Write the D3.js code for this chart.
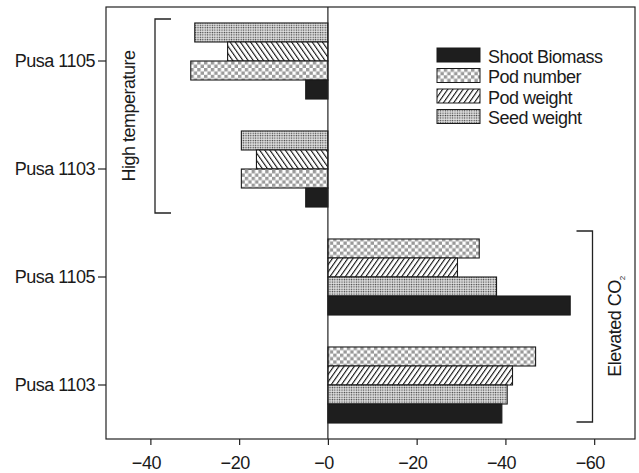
<!DOCTYPE html>
<html>
<head>
<meta charset="utf-8">
<script src="https://cdn.jsdelivr.net/npm/d3@7"></script>
<style>
  body { margin: 0; background: #fff; }
  text { font-family: "Liberation Sans", Arial, sans-serif; fill: #1a1a1a; letter-spacing: -0.5px; }
</style>
</head>
<body>
<div id="chart"></div>
<script>
// groups top -> bottom (first two high temperature, last two elevated CO2)
const groups = ["ht1105", "ht1103", "co1105", "co1103"];
const groupLabels = ["Pusa 1105", "Pusa 1103", "Pusa 1105", "Pusa 1103"];
const series = ["Shoot Biomass", "Pod number", "Pod weight", "Seed weight"];

// % change, left side = reduction, right side = increase
const shootBiomass = [-5.0, -5.0, 54.6, 39.2];
const podNumber = [-30.9, -19.5, 34.1, 46.8];
const podWeight = [-22.6, -16.1, 29.2, 41.6];
const seedWeight = [-30.0, -19.5, 38.0, 40.4];

// bar order inside a group, top to bottom
const htOrder = ["Seed weight", "Pod weight", "Pod number", "Shoot Biomass"];
const co2Order = ["Pod number", "Pod weight", "Seed weight", "Shoot Biomass"];

const xTicks = [-40, -20, 0, 20, 40, 60];

const W = 639, H = 473;
const margin = { top: 7, right: 4, bottom: 34, left: 106 };
const fontSize = 18;

const svg = d3.select("#chart").append("svg")
    .attr("width", W)
    .attr("height", H);

// patterns
const defs = svg.append("defs");

const chk = defs.append("pattern").attr("id", "checker")
    .attr("patternUnits", "userSpaceOnUse").attr("width", 6.8).attr("height", 6.8);
chk.append("rect").attr("width", 6.8).attr("height", 6.8).attr("fill", "#fff");
chk.append("rect").attr("width", 3.4).attr("height", 3.4).attr("fill", "#9a9a9a");
chk.append("rect").attr("x", 3.4).attr("y", 3.4).attr("width", 3.4).attr("height", 3.4).attr("fill", "#9a9a9a");

const dots = defs.append("pattern").attr("id", "dots")
    .attr("patternUnits", "userSpaceOnUse").attr("width", 2.4).attr("height", 2.4);
dots.append("rect").attr("width", 2.4).attr("height", 2.4).attr("fill", "#e0e0e0");
dots.append("circle").attr("cx", 1.2).attr("cy", 1.2).attr("r", 0.7).attr("fill", "#3a3a3a");

function hatch(id, angle) {
    const p = defs.append("pattern").attr("id", id)
        .attr("patternUnits", "userSpaceOnUse").attr("width", 4.2).attr("height", 4.2)
        .attr("patternTransform", "rotate(" + angle + ")");
    p.append("rect").attr("width", 4.2).attr("height", 4.2).attr("fill", "#fff");
    p.append("line").attr("x1", 0).attr("y1", 0).attr("x2", 0).attr("y2", 4.2)
        .attr("stroke", "#111").attr("stroke-width", 2.2);
}
hatch("hatchR", 35);   // "////"
hatch("hatchL", -35);  // "\\\\"

const fills = {
    "Shoot Biomass": "#1e1e1e",
    "Pod number": "url(#checker)",
    "Pod weight": "url(#hatchR)",
    "Seed weight": "url(#dots)"
};

// scales
const x = d3.scaleLinear()
    .domain([-50, 69.2])
    .range([margin.left, W - margin.right]);

const y = d3.scaleBand()
    .domain(groups)
    .range([margin.top, H - margin.bottom])
    .paddingInner(0.296)
    .paddingOuter(0.148);

const yInner = d3.scaleBand()
    .domain([0, 1, 2, 3])
    .range([0, y.bandwidth()]);

const valueOf = {
    "Shoot Biomass": shootBiomass,
    "Pod number": podNumber,
    "Pod weight": podWeight,
    "Seed weight": seedWeight
};

// flatten into bars
const bars = [];
groups.forEach((g, gi) => {
    const order = gi < 2 ? htOrder : co2Order;
    order.forEach((s, si) => {
        bars.push({
            group: g,
            slot: si,
            name: s,
            value: valueOf[s][gi],
            fill: s === "Pod weight" && gi < 2 ? "url(#hatchL)" : fills[s]
        });
    });
});

svg.append("g").selectAll("rect")
    .data(bars)
    .enter().append("rect")
    .attr("x", d => Math.min(x(0), x(d.value)))
    .attr("y", d => y(d.group) + yInner(d.slot))
    .attr("width", d => Math.abs(x(d.value) - x(0)))
    .attr("height", yInner.bandwidth())
    .attr("fill", d => d.fill)
    .attr("stroke", "#1a1a1a")
    .attr("stroke-width", 1.1);

// frame
svg.append("rect")
    .attr("x", margin.left).attr("y", margin.top)
    .attr("width", W - margin.right - margin.left)
    .attr("height", H - margin.bottom - margin.top)
    .attr("fill", "none").attr("stroke", "#222").attr("stroke-width", 1.2);

// zero line
svg.append("line")
    .attr("x1", x(0)).attr("x2", x(0))
    .attr("y1", margin.top).attr("y2", H - margin.bottom)
    .attr("stroke", "#222").attr("stroke-width", 1.2);

// x axis
const xAxis = svg.append("g")
    .attr("transform", "translate(0," + (H - margin.bottom) + ")")
    .call(d3.axisBottom(x).tickValues(xTicks).tickSize(6).tickPadding(11)
        .tickFormat(d => "\u2212" + Math.abs(d)));
xAxis.select(".domain").remove();
xAxis.selectAll("line").attr("stroke", "#222").attr("stroke-width", 1.2);
xAxis.selectAll("text").attr("font-size", fontSize).attr("dx", -4.5)
    .style("font-family", "'Liberation Sans', Arial, sans-serif").attr("fill", "#1a1a1a");

// y axis
const yAxis = svg.append("g")
    .attr("transform", "translate(" + margin.left + ",0)")
    .call(d3.axisLeft(y).tickSize(8).tickPadding(3)
        .tickFormat((d, i) => groupLabels[i]));
yAxis.select(".domain").remove();
yAxis.selectAll("line").attr("stroke", "#222").attr("stroke-width", 1.2);
yAxis.selectAll("text").attr("font-size", fontSize)
    .style("font-family", "'Liberation Sans', Arial, sans-serif").attr("fill", "#1a1a1a");

// brackets
const bracket = d3.line();
const htTop = y("ht1105") - 4, htBot = y("ht1103") + y.bandwidth() + 6;
svg.append("path")
    .attr("d", bracket([[171, htTop], [155, htTop], [155, htBot], [171, htBot]]))
    .attr("fill", "none").attr("stroke", "#222").attr("stroke-width", 1.3);
svg.append("text")
    .attr("transform", "translate(135," + ((htTop + htBot) / 2) + ") rotate(-90)")
    .attr("text-anchor", "middle")
    .attr("font-size", fontSize)
    .text("High temperature");

const coTop = y("co1105") - 8, coBot = y("co1103") + y.bandwidth() - 1;
svg.append("path")
    .attr("d", bracket([[576.5, coTop], [592.5, coTop], [592.5, coBot], [576.5, coBot]]))
    .attr("fill", "none").attr("stroke", "#222").attr("stroke-width", 1.3);
const coText = svg.append("text")
    .attr("transform", "translate(621," + ((coTop + coBot) / 2) + ") rotate(-90)")
    .attr("text-anchor", "middle")
    .attr("font-size", fontSize);
coText.append("tspan").text("Elevated CO");
coText.append("tspan").attr("font-size", 8).attr("dy", 4).text("2");

// legend
const legend = svg.append("g").attr("transform", "translate(437,48)");
const li = legend.selectAll("g")
    .data(series)
    .enter().append("g")
    .attr("transform", (d, i) => "translate(0," + i * 20.5 + ")");
li.append("rect")
    .attr("width", 43).attr("height", 14)
    .attr("fill", d => fills[d])
    .attr("stroke", "#1a1a1a").attr("stroke-width", 1);
li.append("text")
    .attr("x", 51).attr("y", 14.8)
    .attr("font-size", fontSize)
    .text(d => d);
</script>
</body>
</html>
